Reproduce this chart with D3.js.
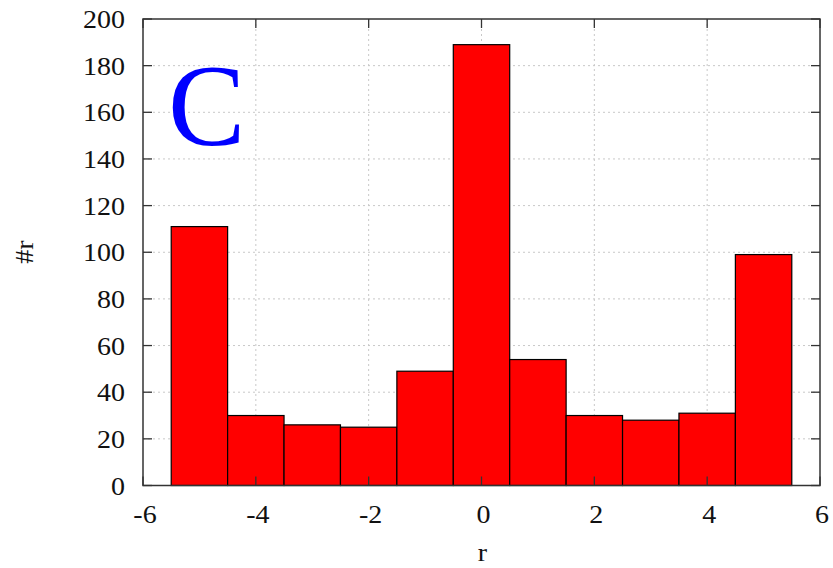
<!DOCTYPE html>
<html><head><meta charset="utf-8">
<script src="https://cdn.jsdelivr.net/npm/d3@7"></script>
<style>body{margin:0;background:#fff}svg text{font-family:"Liberation Serif","DejaVu Serif",serif}</style>
</head><body><svg id="c" width="833" height="568"></svg>
<script>
const binCenters = [-5, -4, -3, -2, -1, 0, 1, 2, 3, 4, 5];
const counts = [111, 30, 26, 25, 49, 189, 54, 30, 28, 31, 99];
const xTicks = [-6, -4, -2, 0, 2, 4, 6];
const yTicks = [0, 20, 40, 60, 80, 100, 120, 140, 160, 180, 200];

const svg = d3.select("#c");
const L = 143, R = 820, T = 19, B = 485.5;
const x = d3.scaleLinear().domain([-6, 6]).range([L, R]);
const y = d3.scaleLinear().domain([0, 200]).range([B, T]);
const FS = 25, SX = 1.12;

// grid
const g = svg.append("g");
g.selectAll(".gx").data(xTicks.slice(1, -1)).enter().append("line")
  .attr("x1", d => x(d)).attr("x2", d => x(d)).attr("y1", T).attr("y2", B)
  .attr("stroke", "#c8c8c8").attr("stroke-dasharray", "2,3").attr("stroke-width", 1);
g.selectAll(".gy").data(yTicks.slice(1, -1)).enter().append("line")
  .attr("y1", d => y(d)).attr("y2", d => y(d)).attr("x1", L).attr("x2", R)
  .attr("stroke", "#c8c8c8").attr("stroke-dasharray", "2,3").attr("stroke-width", 1);

// bars
svg.selectAll(".bar").data(binCenters).enter().append("rect")
  .attr("x", d => x(d - 0.5)).attr("width", d => x(d + 0.5) - x(d - 0.5))
  .attr("y", (d, i) => y(counts[i])).attr("height", (d, i) => B - y(counts[i]))
  .attr("fill", "#ff0000").attr("stroke", "#000").attr("stroke-width", 1.2);

// ticks (inward, mirrored)
const tk = 9;
svg.selectAll(".tb").data(xTicks).enter().append("line")
  .attr("x1", d => x(d)).attr("x2", d => x(d)).attr("y1", B).attr("y2", B - tk)
  .attr("stroke", "#333").attr("stroke-width", 1.3);
svg.selectAll(".tt").data(xTicks).enter().append("line")
  .attr("x1", d => x(d)).attr("x2", d => x(d)).attr("y1", T).attr("y2", T + tk)
  .attr("stroke", "#333").attr("stroke-width", 1.3);
svg.selectAll(".tl").data(yTicks).enter().append("line")
  .attr("y1", d => y(d)).attr("y2", d => y(d)).attr("x1", L).attr("x2", L + tk)
  .attr("stroke", "#333").attr("stroke-width", 1.3);
svg.selectAll(".tr").data(yTicks).enter().append("line")
  .attr("y1", d => y(d)).attr("y2", d => y(d)).attr("x1", R).attr("x2", R - tk)
  .attr("stroke", "#333").attr("stroke-width", 1.3);

// frame
svg.append("rect").attr("x", L).attr("y", T).attr("width", R - L).attr("height", B - T)
  .attr("fill", "none").attr("stroke", "#333").attr("stroke-width", 1.5);

// tick labels
svg.selectAll(".xl").data(xTicks).enter().append("text")
  .attr("transform", d => `translate(${x(d) + 2},${B + 37.5}) scale(${SX},1)`)
  .attr("text-anchor", "middle")
  .attr("font-size", FS).attr("fill", "#111").text(d => d);
svg.selectAll(".yl").data(yTicks).enter().append("text")
  .attr("transform", d => `translate(125,${y(d) + 9}) scale(${SX},1)`)
  .attr("text-anchor", "end")
  .attr("font-size", FS).attr("fill", "#111").text(d => d);

// axis labels
svg.append("text").attr("transform", `translate(${x(0) + 1},561) scale(${SX},1)`).attr("text-anchor", "middle")
  .attr("font-size", FS).attr("fill", "#111").text("r");
svg.append("text").attr("transform", "translate(33,252) rotate(-90) scale(1.12,1)").attr("text-anchor", "middle")
  .attr("font-size", FS).attr("fill", "#111").text("#r");

// panel letter
svg.append("text").attr("x", 168).attr("y", 145).attr("font-size", 116)
  .attr("fill", "#0000ff").text("C");
</script></body></html>
